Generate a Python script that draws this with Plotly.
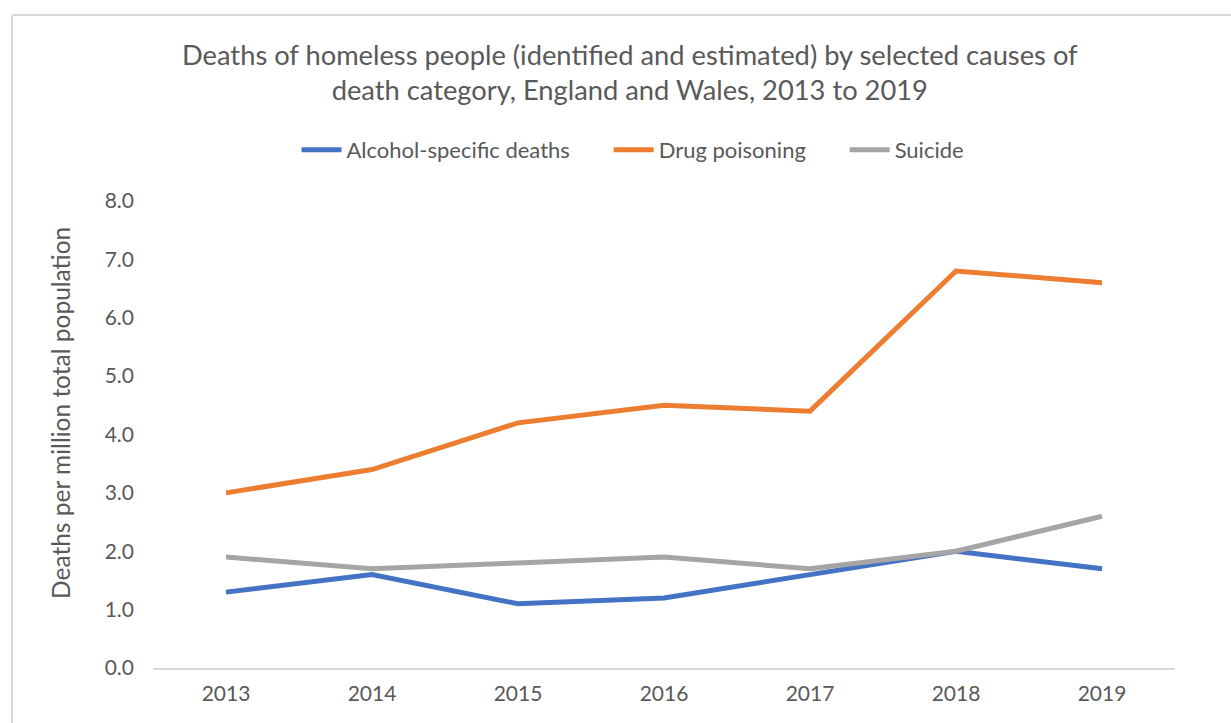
import plotly.graph_objects as go

years = ["2013", "2014", "2015", "2016", "2017", "2018", "2019"]
alcohol = [1.3, 1.6, 1.1, 1.2, 1.6, 2.0, 1.7]
drug = [3.0, 3.4, 4.2, 4.5, 4.4, 6.8, 6.6]
suicide = [1.9, 1.7, 1.8, 1.9, 1.7, 2.0, 2.6]

series_names = ["Alcohol-specific deaths", "Drug poisoning", "Suicide"]
series_colors = ["#4472C4", "#ED7D31", "#A5A5A5"]

FONT = "Lato, 'Open Sans', sans-serif"
TEXT = "#595959"
PAD = "\u00a0" * 6  # extra room between legend entries

fig = go.Figure()
for i, (name, vals, col) in enumerate(zip(series_names, [alcohol, drug, suicide], series_colors)):
    label = name + (PAD if i < len(series_names) - 1 else "")
    fig.add_trace(go.Scatter(
        x=years, y=vals, name=label, mode="lines",
        line=dict(color=col, width=5),
        hovertemplate=name + ": %{y:.1f}<extra>%{x}</extra>",
    ))

W, H = 1231, 723
ml, mr, mt, mb = 153, 56, 201, 55
pw, ph = W - ml - mr, H - mt - mb

def px(x):
    return (x - ml) / pw

def py(y):
    return (H - mb - y) / ph

fig.update_layout(
    width=W, height=H,
    margin=dict(l=ml, r=mr, t=mt, b=mb),
    paper_bgcolor="white", plot_bgcolor="white",
    font=dict(family=FONT, color=TEXT, size=20),
    showlegend=True,
    legend=dict(
        orientation="h", x=px(633), xanchor="center", y=py(150), yanchor="middle",
        font=dict(size=22, color=TEXT), itemwidth=40, traceorder="normal",
    ),
    xaxis=dict(
        type="category", range=[-0.5, 6.5], showgrid=False, showline=True,
        linecolor="#D9D9D9", linewidth=2, ticks="",
        tickfont=dict(size=21, color=TEXT), ticklabelstandoff=6, zeroline=False,
    ),
    yaxis=dict(
        range=[0, 8], dtick=1, tickformat=".1f", showgrid=False, showline=False,
        zeroline=False, ticks="", tickfont=dict(size=21, color=TEXT), ticklabelstandoff=18,
    ),
    annotations=[
        dict(text="Deaths of homeless people (identified and estimated) by selected causes of<br>death category, England and Wales, 2013 to 2019",
             xref="paper", yref="paper", x=px(630), y=py(72), xanchor="center", yanchor="middle",
             showarrow=False, font=dict(size=27.3, color=TEXT), align="center"),
        dict(text="Deaths per million total population", xref="paper", yref="paper",
             x=px(60), y=py(413), xanchor="center", yanchor="middle", textangle=-90,
             showarrow=False, font=dict(size=24.5, color=TEXT)),
    ],
    shapes=[
        dict(type="line", xref="paper", yref="paper", x0=px(12), x1=px(12), y0=py(H + 5), y1=py(15),
             line=dict(color="#D9D9D9", width=2)),
        dict(type="line", xref="paper", yref="paper", x0=px(12), x1=px(W + 5), y0=py(15), y1=py(15),
             line=dict(color="#D9D9D9", width=2)),
    ],
)

fig.write_html("out.html")
